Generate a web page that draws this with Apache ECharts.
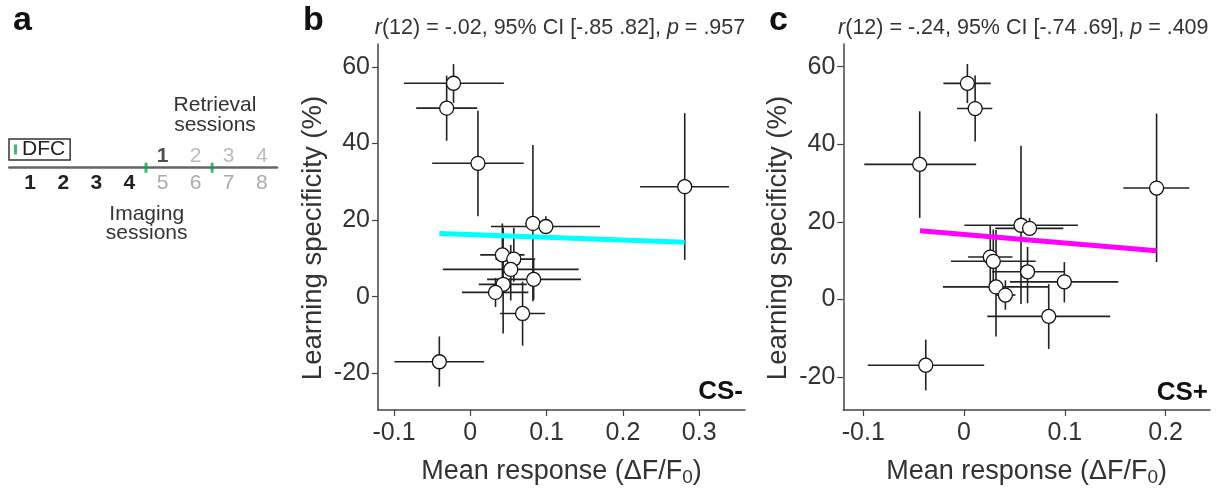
<!DOCTYPE html>
<html>
<head>
<meta charset="utf-8">
<script src="https://cdn.jsdelivr.net/npm/echarts@6/dist/echarts.min.js"></script>
<style>
  html, body { margin: 0; padding: 0; background: #fff; }
  #chart { width: 1222px; height: 493px; }
</style>
</head>
<body>
<div id="chart"></div>
<script>
const FONT = 'Liberation Sans, Arial, sans-serif';

// panel a : timeline des sessions
const imagingSessions = [1, 2, 3, 4, 5, 6, 7, 8];
const retrievalSessions = [5, 6, 7, 8];
const retrievalLabels = ['1', '2', '3', '4'];
const dfcSessions = [4.5, 6.5];

// learning specificity (%) + barres d'erreur (communes aux deux panneaux)
const specY  = [55.7, 49.2, 34.8, 28.7, 19.1, 18.3, 10.9, 9.8, 7.1, 4.5, 3.2, 1.1, -4.4, -17.0];
const specLo = [50.6, 40.7, 21.0, 9.6, -1.2, 16.9, 3.0, 3.9, -1.0, -0.8, -9.6, -2.7, -12.8, -23.5];
const specHi = [60.7, 57.7, 48.5, 47.9, 39.6, 21.0, 19.1, 18.0, 13.5, 9.6, 17.9, 4.9, 3.9, -10.4];

// CS- : mean response (dF/F0)
const csMinusX  = [-0.022, -0.031, 0.010, 0.281, 0.082, 0.099, 0.042, 0.057, 0.053, 0.083, 0.043, 0.033, 0.0685, -0.0406];
const csMinusLo = [-0.087, -0.071, -0.050, 0.2225, 0.072, 0.027, 0.013, 0.033, -0.036, 0.022, 0.011, -0.011, 0.039, -0.0995];
const csMinusHi = [0.044, 0.009, 0.070, 0.339, 0.092, 0.170, 0.071, 0.085, 0.142, 0.145, 0.074, 0.076, 0.098, 0.018];
const fitMinusX = [-0.0406, 0.281];
const fitMinusY = [16.5, 14.2];

// CS+ : mean response (dF/F0)
const csPlusX  = [0.0033, 0.011, -0.044, 0.191, 0.0565, 0.065, 0.026, 0.029, 0.063, 0.0995, 0.0317, 0.041, 0.084, -0.038];
const csPlusLo = [-0.0205, -0.007, -0.099, 0.158, 0.0003, 0.031, 0.004, -0.013, 0.028, 0.0456, -0.021, 0.032, 0.023, -0.0955];
const csPlusHi = [0.0265, 0.028, 0.012, 0.2235, 0.113, 0.0985, 0.048, 0.071, 0.100, 0.153, 0.084, 0.051, 0.145, 0.020];
const fitPlusX = [-0.0437, 0.191];
const fitPlusY = [17.7, 12.5];

// ticks
const yTicks = [-20, 0, 20, 40, 60];
const xTicksMinus = [-0.1, 0, 0.1, 0.2, 0.3];
const xTicksPlus = [-0.1, 0, 0.1, 0.2];

const axisColor = '#444';
const textColor = '#333';

function zip(a, b) {
  return a.map((v, i) => [v, b[i]]);
}

function errorData(xs, lo, hi) {
  return specY.map((y, i) => [xs[i], y, lo[i], hi[i], specLo[i], specHi[i]]);
}

function renderErrorBar(params, api) {
  const l = api.coord([api.value(2), api.value(1)]);
  const r = api.coord([api.value(3), api.value(1)]);
  const b = api.coord([api.value(0), api.value(4)]);
  const t = api.coord([api.value(0), api.value(5)]);
  const style = { stroke: '#222', lineWidth: 1.6 };
  return {
    type: 'group',
    children: [
      { type: 'line', shape: { x1: l[0], y1: l[1], x2: r[0], y2: r[1] }, style },
      { type: 'line', shape: { x1: b[0], y1: b[1], x2: t[0], y2: t[1] }, style }
    ]
  };
}

function scatterXAxis(idx, min, max, ticks) {
  return {
    type: 'value', gridIndex: idx, min, max,
    axisLine: { onZero: false, lineStyle: { color: axisColor, width: 1.5 } },
    axisTick: { customValues: ticks, length: 6, lineStyle: { color: axisColor, width: 1.2 } },
    axisLabel: {
      customValues: ticks, margin: 11, fontSize: 25, color: textColor, fontFamily: FONT,
      formatter: v => (v === 0 ? '0' : String(Math.round(v * 10) / 10))
    },
    splitLine: { show: false },
    name: 'Mean response (\u0394F/F{sub|0})',
    nameLocation: 'middle',
    nameGap: 47,
    nameTextStyle: {
      fontSize: 27, color: textColor, fontFamily: FONT, lineHeight: 30,
      rich: { sub: { fontSize: 19, lineHeight: 18, verticalAlign: 'bottom', color: textColor, fontFamily: FONT } }
    }
  };
}

function scatterYAxis(idx, min, max) {
  return {
    type: 'value', gridIndex: idx, min, max,
    axisLine: { show: true, onZero: false, lineStyle: { color: axisColor, width: 1.5 } },
    axisTick: { show: true, customValues: yTicks, length: 6, lineStyle: { color: axisColor, width: 1.2 } },
    axisLabel: { customValues: yTicks, margin: 8, fontSize: 25, color: textColor, fontFamily: FONT },
    splitLine: { show: false }
  };
}

function panelSeries(idx, xs, lo, hi, fx, fy, color) {
  return [
    {
      type: 'custom', xAxisIndex: idx, yAxisIndex: idx, z: 2,
      renderItem: renderErrorBar,
      encode: { x: [0, 2, 3], y: [1, 4, 5] },
      data: errorData(xs, lo, hi)
    },
    {
      type: 'line', xAxisIndex: idx, yAxisIndex: idx, z: 3,
      showSymbol: false, data: zip(fx, fy),
      lineStyle: { color, width: 5 }
    },
    {
      type: 'scatter', xAxisIndex: idx, yAxisIndex: idx, z: 5,
      symbol: 'circle', symbolSize: 14,
      itemStyle: { color: '#fff', borderColor: '#111', borderWidth: 1.3, opacity: 1 },
      data: zip(xs, specY)
    }
  ];
}

const chart = echarts.init(document.getElementById('chart'));

const option = {
  animation: false,
  backgroundColor: '#fff',
  legend: {
    data: [{ name: 'DFC', icon: 'rect' }],
    left: 9, top: 139,
    itemWidth: 3, itemHeight: 10,
    padding: [0, 5, 0, 5],
    borderColor: '#333', borderWidth: 1.5,
    selectedMode: false,
    textStyle: { fontSize: 21, color: '#222', fontFamily: FONT }
  },
  grid: [
    { left: 9.3, top: 100, width: 267.7, height: 67.7 },
    { left: 378, top: 44, width: 367, height: 366 },
    { left: 843.3, top: 44, width: 366.7, height: 366 }
  ],
  xAxis: [
    {
      type: 'value', gridIndex: 0, min: 0.37, max: 8.46,
      axisLine: { onZero: false, lineStyle: { color: '#666', width: 2.5 } },
      axisTick: { show: false },
      splitLine: { show: false },
      axisLabel: {
        customValues: imagingSessions, margin: 5, fontFamily: FONT,
        formatter: v => (v <= 4 ? '{k|' + v + '}' : '{g|' + v + '}'),
        rich: {
          k: { fontSize: 21, fontWeight: 'bold', color: '#222', fontFamily: FONT },
          g: { fontSize: 21, color: '#aaa', fontFamily: FONT }
        }
      }
    },
    scatterXAxis(1, -0.121, 0.36, xTicksMinus),
    scatterXAxis(2, -0.1198, 0.244, xTicksPlus)
  ],
  yAxis: [
    { type: 'value', gridIndex: 0, min: 0, max: 1, show: false },
    scatterYAxis(1, -29.6, 65.95),
    scatterYAxis(2, -28.55, 65.85)
  ],
  series: [
    {
      name: 'DFC', type: 'scatter', xAxisIndex: 0, yAxisIndex: 0,
      symbol: 'rect', symbolSize: [3, 10],
      itemStyle: { color: '#13a54f' },
      data: dfcSessions.map(s => [s, 0])
    },
    {
      type: 'scatter', xAxisIndex: 0, yAxisIndex: 0, symbolSize: 0,
      data: retrievalSessions.map(s => [s, 0]),
      label: {
        show: true, position: 'top', distance: 1, fontFamily: FONT,
        formatter: p => (p.dataIndex === 0 ? '{k|' : '{g|') + retrievalLabels[p.dataIndex] + '}',
        rich: {
          k: { fontSize: 21, fontWeight: 'bold', color: '#222', fontFamily: FONT },
          g: { fontSize: 21, color: '#aaa', fontFamily: FONT }
        }
      }
    },
    ...panelSeries(1, csMinusX, csMinusLo, csMinusHi, fitMinusX, fitMinusY, '#00ffff'),
    ...panelSeries(2, csPlusX, csPlusLo, csPlusHi, fitPlusX, fitPlusY, '#ff00ff')
  ],
  graphic: [
    // lettres des panneaux
    { type: 'text', x: 13, y: 21, style: { text: 'a', font: 'bold 34px ' + FONT, fill: '#111', verticalAlign: 'middle' } },
    { type: 'text', x: 303, y: 21, style: { text: 'b', font: 'bold 34px ' + FONT, fill: '#111', verticalAlign: 'middle' } },
    { type: 'text', x: 769, y: 21, style: { text: 'c', font: 'bold 34px ' + FONT, fill: '#111', verticalAlign: 'middle' } },
    // panneau a
    {
      type: 'text', x: 215, y: 115.4,
      style: { text: 'Retrieval\nsessions', font: '21px ' + FONT, fill: textColor, align: 'center', verticalAlign: 'middle', lineHeight: 20 }
    },
    {
      type: 'text', x: 146.7, y: 224,
      style: { text: 'Imaging\nsessions', font: '21px ' + FONT, fill: textColor, align: 'center', verticalAlign: 'middle', lineHeight: 19 }
    },
    // titres stats
    {
      type: 'text', x: 560, y: 27.6,
      style: {
        text: '{i|r}(12) = -.02, 95% CI [-.85 .82], {i|p} = .957',
        font: '21.5px ' + FONT, fill: textColor, align: 'center', verticalAlign: 'middle',
        rich: { i: { fontStyle: 'italic', fontSize: 21.5, fontFamily: FONT, fill: textColor } }
      }
    },
    {
      type: 'text', x: 1023.3, y: 27.6,
      style: {
        text: '{i|r}(12) = -.24, 95% CI [-.74 .69], {i|p} = .409',
        font: '21.5px ' + FONT, fill: textColor, align: 'center', verticalAlign: 'middle',
        rich: { i: { fontStyle: 'italic', fontSize: 21.5, fontFamily: FONT, fill: textColor } }
      }
    },
    // noms des axes y
    {
      type: 'text', x: 313, y: 238, rotation: Math.PI / 2,
      style: { text: 'Learning specificity (%)', font: '27.5px ' + FONT, fill: textColor, align: 'center', verticalAlign: 'middle' }
    },
    {
      type: 'text', x: 778.3, y: 238, rotation: Math.PI / 2,
      style: { text: 'Learning specificity (%)', font: '27.5px ' + FONT, fill: textColor, align: 'center', verticalAlign: 'middle' }
    },
    // CS- / CS+
    { type: 'text', x: 743, y: 391.6, z: 10, style: { text: 'CS-', font: 'bold 26px ' + FONT, fill: '#111', align: 'right', verticalAlign: 'middle' } },
    { type: 'text', x: 1208, y: 392.6, z: 10, style: { text: 'CS+', font: 'bold 26px ' + FONT, fill: '#111', align: 'right', verticalAlign: 'middle' } }
  ]
};

chart.setOption(option);
</script>
</body>
</html>
